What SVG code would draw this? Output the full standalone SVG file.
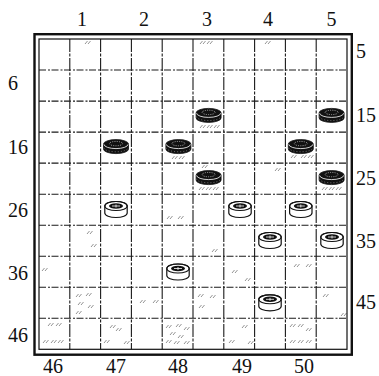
<svg xmlns="http://www.w3.org/2000/svg" xmlns:xlink="http://www.w3.org/1999/xlink" width="379" height="376" viewBox="0 0 379 376">
<defs>
<style>
.lbl{font-family:"Liberation Serif","Times New Roman",serif;font-size:20px;fill:#111}
.vg{stroke:#1a1a1a;stroke-width:1.1;stroke-dasharray:13 1.5 3 1.5;fill:none}
.hg{stroke:#1a1a1a;stroke-width:1.1;stroke-dasharray:7 2 2 1.5;fill:none}
.tex{stroke:#666;stroke-width:0.7;fill:none}
</style>
<g id="blk">
<path d="M-12.5 -2.5 L-12.5 2.5 A12.5 4.5 0 0 0 12.5 2.5 L12.5 -2.5 A12.5 4.5 0 0 0 -12.5 -2.5 Z" fill="#111" stroke="#111" stroke-width="0.8"/>
<path d="M-12 -2.2 A12 4.2 0 0 0 12 -2.2" fill="none" stroke="#fff" stroke-width="0.8"/>
<ellipse cx="0" cy="-3" rx="6.5" ry="2.2" fill="none" stroke="#fff" stroke-width="0.6" stroke-dasharray="1 1.2"/>
<path d="M-12 1.2 A12 4 0 0 0 12 1.2" fill="none" stroke="#fff" stroke-width="0.4" stroke-dasharray="1 2"/>
</g>
<g id="wht">
<path d="M-11.2 -3.5 L-11.2 3.5 A11.2 4.5 0 0 0 11.2 3.5 L11.2 -3.5 A11.2 4.5 0 0 0 -11.2 -3.5 Z" fill="#fff" stroke="#111" stroke-width="1.2"/>
<ellipse cx="0" cy="-3.5" rx="11.2" ry="4.5" fill="none" stroke="#111" stroke-width="1.1"/>
<ellipse cx="0" cy="-3.5" rx="7" ry="2.8" fill="#111"/>
<path d="M-4 -3.5 L4 -3.5 M0 -5 L0 -2" stroke="#fff" stroke-width="0.8"/>
</g>
<path id="h" d="M0 3 L2.5 0 M3 3 L5.5 0"/>
</defs>
<rect width="379" height="376" fill="#fff"/>

<g id="texture" class="tex">
<use xlink:href="#h" x="85" y="41"/>
<use xlink:href="#h" x="200" y="41"/>
<use xlink:href="#h" x="207" y="41"/>
<use xlink:href="#h" x="265" y="41"/>
<use xlink:href="#h" x="172" y="156"/>
<use xlink:href="#h" x="179" y="156"/>
<use xlink:href="#h" x="200" y="125"/>
<use xlink:href="#h" x="207" y="125"/>
<use xlink:href="#h" x="214" y="125"/>
<use xlink:href="#h" x="291" y="155"/>
<use xlink:href="#h" x="301" y="155"/>
<use xlink:href="#h" x="308" y="155"/>
<use xlink:href="#h" x="202" y="165"/>
<use xlink:href="#h" x="275" y="168"/>
<use xlink:href="#h" x="199" y="187"/>
<use xlink:href="#h" x="206" y="187"/>
<use xlink:href="#h" x="213" y="187"/>
<use xlink:href="#h" x="322" y="187"/>
<use xlink:href="#h" x="329" y="187"/>
<use xlink:href="#h" x="336" y="187"/>
<use xlink:href="#h" x="167" y="216"/>
<use xlink:href="#h" x="178" y="216"/>
<use xlink:href="#h" x="87" y="231"/>
<use xlink:href="#h" x="91" y="244"/>
<use xlink:href="#h" x="42" y="268"/>
<use xlink:href="#h" x="212" y="249"/>
<use xlink:href="#h" x="232" y="270"/>
<use xlink:href="#h" x="245" y="278"/>
<use xlink:href="#h" x="294" y="264"/>
<use xlink:href="#h" x="306" y="264"/>
<use xlink:href="#h" x="76" y="294"/>
<use xlink:href="#h" x="86" y="293"/>
<use xlink:href="#h" x="78" y="302"/>
<use xlink:href="#h" x="88" y="305"/>
<use xlink:href="#h" x="76" y="311"/>
<use xlink:href="#h" x="140" y="300"/>
<use xlink:href="#h" x="153" y="300"/>
<use xlink:href="#h" x="198" y="294"/>
<use xlink:href="#h" x="210" y="295"/>
<use xlink:href="#h" x="199" y="305"/>
<use xlink:href="#h" x="323" y="294"/>
<use xlink:href="#h" x="341" y="313"/>
<use xlink:href="#h" x="48" y="323"/>
<use xlink:href="#h" x="56" y="323"/>
<use xlink:href="#h" x="43" y="340"/>
<use xlink:href="#h" x="51" y="340"/>
<use xlink:href="#h" x="58" y="340"/>
<use xlink:href="#h" x="110" y="325"/>
<use xlink:href="#h" x="116" y="328"/>
<use xlink:href="#h" x="104" y="340"/>
<use xlink:href="#h" x="124" y="341"/>
<use xlink:href="#h" x="166" y="325"/>
<use xlink:href="#h" x="176" y="324"/>
<use xlink:href="#h" x="184" y="327"/>
<use xlink:href="#h" x="170" y="332"/>
<use xlink:href="#h" x="178" y="335"/>
<use xlink:href="#h" x="166" y="340"/>
<use xlink:href="#h" x="174" y="341"/>
<use xlink:href="#h" x="184" y="341"/>
<use xlink:href="#h" x="242" y="325"/>
<use xlink:href="#h" x="229" y="340"/>
<use xlink:href="#h" x="248" y="341"/>
<use xlink:href="#h" x="290" y="324"/>
<use xlink:href="#h" x="298" y="324"/>
<use xlink:href="#h" x="306" y="328"/>
<use xlink:href="#h" x="290" y="340"/>
<use xlink:href="#h" x="298" y="340"/>
<use xlink:href="#h" x="306" y="340"/>
</g>

<g id="connectors">
<g id="grid-v" class="vg">
<line x1="69.8" y1="39" x2="69.8" y2="349.3"/>
<line x1="100.6" y1="39" x2="100.6" y2="349.3"/>
<line x1="131.4" y1="39" x2="131.4" y2="349.3"/>
<line x1="162.2" y1="39" x2="162.2" y2="349.3"/>
<line x1="193" y1="39" x2="193" y2="349.3"/>
<line x1="223.8" y1="39" x2="223.8" y2="349.3"/>
<line x1="254.6" y1="39" x2="254.6" y2="349.3"/>
<line x1="285.4" y1="39" x2="285.4" y2="349.3"/>
<line x1="316.2" y1="39" x2="316.2" y2="349.3"/>
</g>
<g id="grid-h" class="hg">
<line x1="39" y1="70" x2="347" y2="70"/>
<line x1="39" y1="101.1" x2="347" y2="101.1"/>
<line x1="39" y1="132.1" x2="347" y2="132.1"/>
<line x1="39" y1="163.1" x2="347" y2="163.1"/>
<line x1="39" y1="194.2" x2="347" y2="194.2"/>
<line x1="39" y1="225.2" x2="347" y2="225.2"/>
<line x1="39" y1="256.2" x2="347" y2="256.2"/>
<line x1="39" y1="287.2" x2="347" y2="287.2"/>
<line x1="39" y1="318.3" x2="347" y2="318.3"/>
</g>
</g>

<g id="border" fill="none" stroke="#111">
<rect x="34.5" y="34.2" width="317.3" height="320.5" stroke-width="2.4"/>
<rect x="39" y="39" width="308" height="310.3" stroke-width="1.2"/>
</g>

<g id="labels">
<text class="lbl" x="82" y="25.5" text-anchor="middle">1</text>
<text class="lbl" x="144" y="25.5" text-anchor="middle">2</text>
<text class="lbl" x="207" y="25.5" text-anchor="middle">3</text>
<text class="lbl" x="268" y="25.5" text-anchor="middle">4</text>
<text class="lbl" x="331.5" y="25.5" text-anchor="middle">5</text>
<text class="lbl" x="8" y="90">6</text>
<text class="lbl" x="8" y="154">16</text>
<text class="lbl" x="8" y="216.5">26</text>
<text class="lbl" x="8" y="279.5">36</text>
<text class="lbl" x="8" y="342">46</text>
<text class="lbl" x="356" y="58">5</text>
<text class="lbl" x="356" y="122">15</text>
<text class="lbl" x="356" y="184.5">25</text>
<text class="lbl" x="356" y="247.5">35</text>
<text class="lbl" x="356" y="309">45</text>
<text class="lbl" x="53" y="372.5" text-anchor="middle">46</text>
<text class="lbl" x="116" y="372.5" text-anchor="middle">47</text>
<text class="lbl" x="178" y="372.5" text-anchor="middle">48</text>
<text class="lbl" x="242" y="372.5" text-anchor="middle">49</text>
<text class="lbl" x="304" y="372.5" text-anchor="middle">50</text>
</g>

<g id="piece-13"><use xlink:href="#blk" x="208.6" y="115.4"/></g>
<g id="piece-15"><use xlink:href="#blk" x="331.6" y="115.4"/></g>
<g id="piece-17"><use xlink:href="#blk" x="116" y="146.6"/></g>
<g id="piece-18"><use xlink:href="#blk" x="178.4" y="146.6"/></g>
<g id="piece-20"><use xlink:href="#blk" x="300.8" y="146.6"/></g>
<g id="piece-23"><use xlink:href="#blk" x="208.6" y="177.6"/></g>
<g id="piece-25"><use xlink:href="#blk" x="331.6" y="177.6"/></g>
<g id="piece-27"><use xlink:href="#wht" x="116" y="209.5"/></g>
<g id="piece-29"><use xlink:href="#wht" x="240" y="209.5"/></g>
<g id="piece-30"><use xlink:href="#wht" x="300.8" y="209.5"/></g>
<g id="piece-34"><use xlink:href="#wht" x="270" y="240.5"/></g>
<g id="piece-35"><use xlink:href="#wht" x="332" y="240.5"/></g>
<g id="piece-38"><use xlink:href="#wht" x="178" y="272"/></g>
<g id="piece-44"><use xlink:href="#wht" x="270" y="302.8"/></g>
</svg>
